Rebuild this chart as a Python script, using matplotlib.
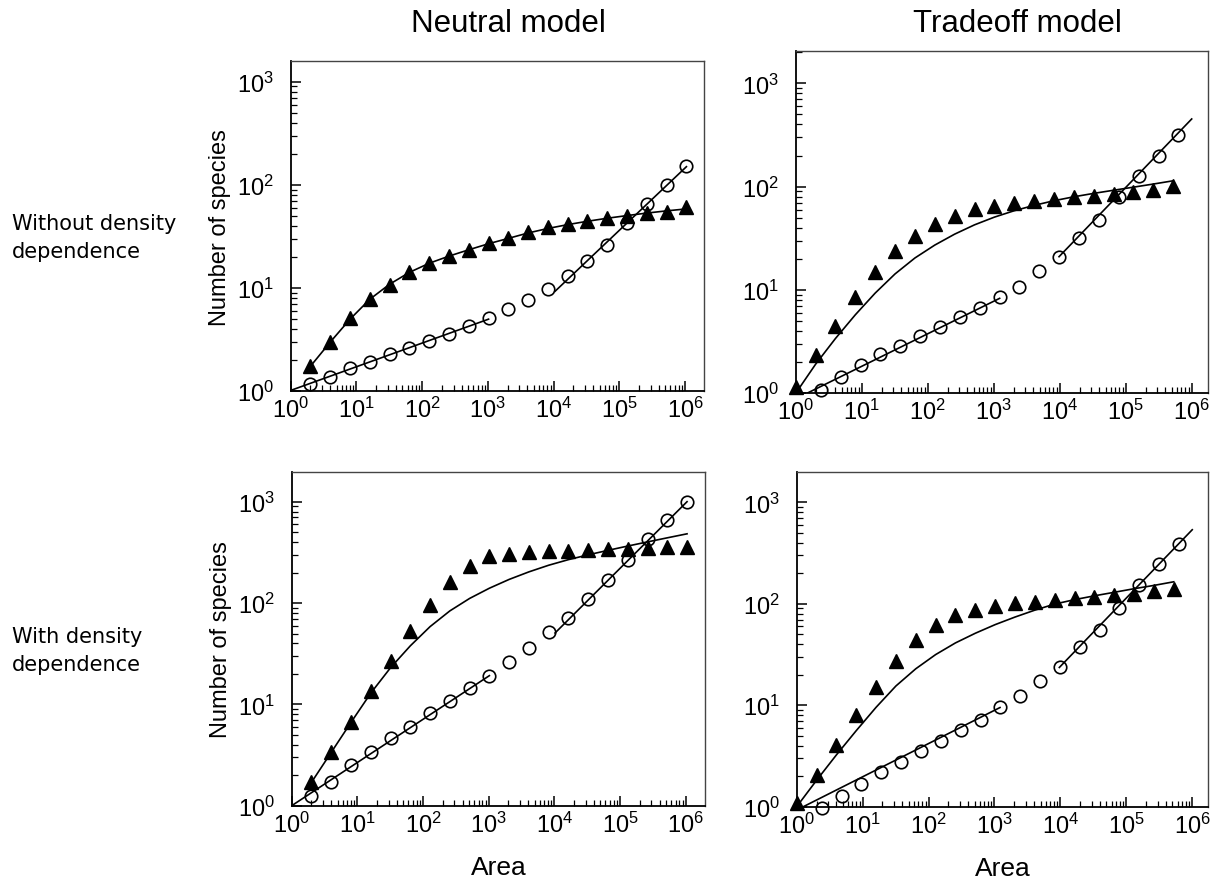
import matplotlib
matplotlib.use('Agg')
import matplotlib.pyplot as plt
from matplotlib.ticker import LogLocator, NullFormatter

plt.rcParams['font.family'] = ['Liberation Sans', 'DejaVu Sans']
plt.rcParams['mathtext.default'] = 'regular'

# Áreas muestreadas (duplicando el área en cada paso)
area_2 = [2, 4, 8, 16, 32, 64, 128, 256, 512, 1024, 2048, 4096, 8192, 16384,
          32768, 65536, 131072, 262144, 524288, 1048576]
area_1 = [1, 2, 4, 8, 16, 32, 64, 128, 256, 512, 1024, 2048, 4096, 8192,
          16384, 32768, 65536, 131072, 262144, 524288]
area_c = [2.4, 4.8, 9.6, 19.2, 38.4, 76.8, 154, 307, 614, 1229, 2458, 4915,
          9830, 19661, 39322, 78643, 157286, 314573, 629146]

# Modelo neutral, sin denso-dependencia
tri_neu = [1.75, 3.03, 5.1, 7.8, 10.8, 14.4, 17.5, 20.3, 23.4, 27.3, 30.4,
           34.7, 38.8, 41.8, 44.4, 47.4, 50.3, 53.0, 55.0, 60.6]
circ_neu = [1.18, 1.37, 1.67, 1.91, 2.30, 2.61, 3.10, 3.59, 4.33, 5.10, 6.28,
            7.73, 9.80, 13.0, 18.4, 26.2, 42.4, 65.3, 100.5, 153.5]
ajuste_neu = [1.75, 3.0, 5.0, 7.8, 10.9, 14.2, 17.4, 20.4, 23.5, 26.9, 30.3,
              34.2, 37.8, 41.2, 44.4, 47.5, 50.4, 53.3, 56.0, 58.5]
recta1_neu_x, recta1_neu_y = [1, 1024], [1.02, 5.0]
recta2_neu_x, recta2_neu_y = [10500, 1048576], [9.3, 150]

# Modelo de compromiso, sin denso-dependencia
tri_trd = [1.14, 2.35, 4.52, 8.49, 14.8, 24.0, 33.1, 43.5, 52.4, 60.8, 65.5,
           69.5, 72.1, 76.0, 80.0, 81.8, 84.9, 89.5, 93.5, 100.7]
circ_trd = [1.08, 1.45, 1.88, 2.40, 2.89, 3.61, 4.42, 5.44, 6.65, 8.62, 10.8,
            15.2, 21.0, 31.6, 47.6, 78.8, 126, 197, 316]
ajuste_trd = [1.0, 1.91, 3.39, 5.75, 9.33, 14.3, 20.4, 27.2, 34.7, 42.7, 50.7,
              58.5, 65.9, 73.1, 79.8, 86.1, 92.3, 98.9, 106, 114]
recta1_trd_x, recta1_trd_y = [1.48, 1230], [1.0, 8.3]
recta2_trd_x, recta2_trd_y = [9770, 1000000], [21.0, 452]

# Modelo neutral, con denso-dependencia
tri_neu_dd = [1.70, 3.36, 6.74, 13.6, 27.0, 52.5, 96.3, 160, 230, 289, 305,
              316, 324, 328, 336, 341, 341, 346, 354, 354]
circ_neu_dd = [1.24, 1.72, 2.52, 3.36, 4.62, 6.02, 8.21, 10.7, 14.5, 19.2,
               26.4, 35.7, 51.4, 71.1, 109, 169, 268, 428, 664, 1000]
ajuste_neu_dd = [1.70, 3.36, 6.64, 12.9, 23.0, 37.8, 58.5, 83.6, 111, 140,
                 171, 203, 236, 268, 299, 331, 365, 401, 440, 482]
recta1_neu_dd_x, recta1_neu_dd_y = [1, 1024], [1.0, 19.2]
recta2_neu_dd_x, recta2_neu_dd_y = [10230, 1048576], [50.6, 1000]

# Modelo de compromiso, con denso-dependencia
tri_trd_dd = [1.1, 2.05, 4.05, 8.01, 15.2, 27.5, 44.0, 62.3, 77.6, 87.5, 95.9,
              102, 105, 109, 113, 118, 123, 125, 133, 140]
circ_trd_dd = [0.97, 1.28, 1.67, 2.18, 2.74, 3.56, 4.47, 5.74, 7.15, 9.53,
               12.4, 17.5, 23.6, 37.2, 55.6, 90.9, 153, 247, 389]
ajuste_trd_dd = [1.0, 1.82, 3.24, 5.62, 9.55, 15.5, 22.9, 31.6, 41.2, 51.3,
                 62.4, 74.1, 86.7, 99.5, 110, 120, 130, 141, 152, 165]
recta1_trd_dd_x, recta1_trd_dd_y = [1.26, 1213], [1.0, 9.5]
recta2_trd_dd_x, recta2_trd_dd_y = [9640, 1000000], [23.6, 538]

ticks_x = [1, 10, 100, 1000, 1e4, 1e5, 1e6]
ticks_y = [1, 10, 100, 1000]

W, H = 1211, 879
fig = plt.figure(figsize=(W / 100, H / 100), dpi=100)


def ejes(izq, der, arriba, abajo):
    return fig.add_axes([izq / W, 1 - abajo / H, (der - izq) / W, (abajo - arriba) / H])


def graficar_panel(ax, x_tri, y_tri, x_circ, y_circ, x_aj, y_aj, rectas, xmax, ymax):
    ax.set_xscale('log')
    ax.set_yscale('log')

    ax.plot(x_aj, y_aj, color='black', lw=1.2)
    for rx, ry in rectas:
        ax.plot(rx, ry, color='black', lw=1.2)

    ax.plot(x_tri, y_tri, ls='none', marker='^', ms=9.5, color='black', clip_on=False)
    ax.plot(x_circ, y_circ, ls='none', marker='o', ms=9, mfc='none',
            mec='black', mew=1.2, clip_on=False)

    ax.set_xlim(1, xmax)
    ax.set_ylim(1, ymax)
    ax.set_xticks(ticks_x)
    ax.set_yticks(ticks_y)
    ax.xaxis.set_minor_locator(LogLocator(base=10, subs=range(2, 10), numticks=20))
    ax.yaxis.set_minor_locator(LogLocator(base=10, subs=range(2, 10), numticks=20))
    ax.xaxis.set_minor_formatter(NullFormatter())
    ax.yaxis.set_minor_formatter(NullFormatter())

    ax.tick_params(which='both', direction='in', top=False, right=False, color='black')
    ax.tick_params(which='major', length=7, width=1.1, labelsize=17)
    ax.tick_params(which='minor', length=4, width=0.9)
    ax.tick_params(axis='x', which='major', pad=4)
    ax.tick_params(axis='y', which='major', pad=12)

    for lado in ['left', 'bottom']:
        ax.spines[lado].set_linewidth(1.3)
    for lado in ['top', 'right']:
        ax.spines[lado].set_linewidth(1.0)
        ax.spines[lado].set_color('#444444')


ax_tl = ejes(290.7, 704, 62, 392.3)
graficar_panel(ax_tl, area_2, tri_neu, area_2, circ_neu, area_2, ajuste_neu,
               [(recta1_neu_x, recta1_neu_y), (recta2_neu_x, recta2_neu_y)],
               10 ** 6.288, 10 ** 3.2)

ax_tr = ejes(795.7, 1208, 52, 394.3)
graficar_panel(ax_tr, area_1, tri_trd, area_c, circ_trd, area_1, ajuste_trd,
               [(recta1_trd_x, recta1_trd_y), (recta2_trd_x, recta2_trd_y)],
               10 ** 6.247, 10 ** 3.313)

ax_bl = ejes(291.7, 705, 473, 806.7)
graficar_panel(ax_bl, area_2, tri_neu_dd, area_2, circ_neu_dd, area_2, ajuste_neu_dd,
               [(recta1_neu_dd_x, recta1_neu_dd_y), (recta2_neu_dd_x, recta2_neu_dd_y)],
               10 ** 6.294, 10 ** 3.293)

ax_br = ejes(796.7, 1208, 473, 807.7)
graficar_panel(ax_br, area_1, tri_trd_dd, area_c, circ_trd_dd, area_1, ajuste_trd_dd,
               [(recta1_trd_dd_x, recta1_trd_dd_y), (recta2_trd_dd_x, recta2_trd_dd_y)],
               10 ** 6.239, 10 ** 3.3)

for ax in [ax_tl, ax_bl]:
    ax.set_ylabel('Number of species', fontsize=17, labelpad=4)
for ax in [ax_bl, ax_br]:
    ax.set_xlabel('Area', fontsize=19, labelpad=13)

# Títulos de columna
fig.text(508 / W, 1 - 24 / H, 'Neutral model', fontsize=22.5, ha='center', va='center')
fig.text(1017 / W, 1 - 24 / H, 'Tradeoff model', fontsize=22.5, ha='center', va='center')

# Etiquetas de fila
fig.text(12 / W, 1 - 237.5 / H, 'Without density\ndependence', family='DejaVu Sans',
         fontsize=15, ha='left', va='center', linespacing=1.5)
fig.text(12 / W, 1 - 651 / H, 'With density\ndependence', family='DejaVu Sans',
         fontsize=15, ha='left', va='center', linespacing=1.5)

fig.savefig('out.png', dpi=100)
